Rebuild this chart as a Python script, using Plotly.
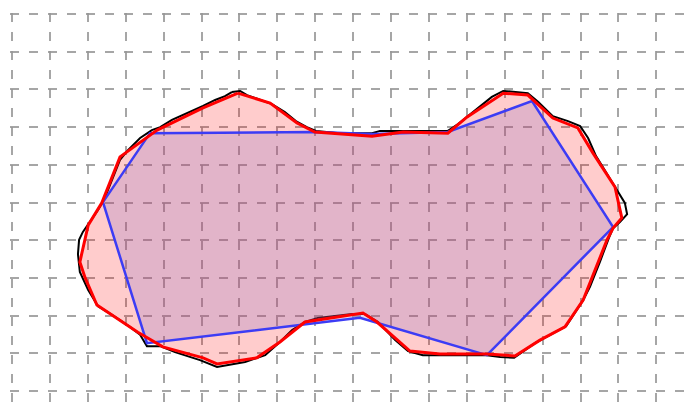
import plotly.graph_objects as go

# Outer (rough) outline, black
outline_x = [5.80, 6.02, 6.20, 6.49, 6.86, 7.20, 7.49, 7.78, 8.02, 8.65, 9.50, 9.71, 10.32, 11.50,
             11.77, 12.03, 12.35, 12.66, 12.96, 13.27, 13.61, 13.88, 14.27, 14.67, 14.99, 15.20,
             15.41, 15.67, 15.94, 16.17, 16.23, 16.04, 15.86, 15.75, 15.51, 15.25, 15.07, 14.85,
             14.62, 14.20, 13.80, 13.46, 13.25, 12.88, 12.53, 11.82, 10.84, 10.45, 10.11, 9.66,
             9.31, 8.97, 8.07, 7.73, 7.39, 7.07, 6.68, 6.15, 5.41, 4.96, 4.30, 3.91, 3.56, 3.38,
             3.11, 2.64, 2.27, 2.01, 1.79, 1.74, 1.77, 1.87, 2.06, 2.27, 2.43, 2.59, 2.85, 3.06,
             3.38, 3.69, 3.91, 4.22, 4.64, 5.04, 5.36, 5.62, 5.80]
outline_y = [7.93, 7.96, 7.85, 7.75, 7.61, 7.40, 7.16, 7.00, 6.90, 6.84, 6.84, 6.90, 6.90, 6.90,
             7.08, 7.29, 7.56, 7.80, 7.96, 7.93, 7.90, 7.67, 7.29, 7.16, 7.03, 6.71,
             6.23, 5.81, 5.38, 4.99, 4.69, 4.48, 4.32, 4.06, 3.42, 2.76, 2.41, 2.07,
             1.72, 1.49, 1.27, 1.03, 0.88, 0.90, 0.95, 0.95, 0.95, 1.06, 1.35, 1.83,
             2.04, 2.04, 1.94, 1.83, 1.62, 1.30, 0.95, 0.77, 0.64, 0.82, 1.03, 1.19, 1.19, 1.49,
             1.70, 2.02, 2.25, 2.68, 3.16, 3.63, 4.01, 4.22, 4.48, 4.80, 5.07, 5.46, 6.13, 6.39,
             6.71, 6.92, 7.00, 7.19, 7.37, 7.56, 7.72, 7.82, 7.93]

# Red polygon
red_x = [5.96, 6.81, 7.52, 7.99, 9.50, 10.32, 11.50, 12.01, 12.96, 13.61, 14.27, 14.93, 15.33,
         15.91, 16.09, 15.86, 15.70, 15.07, 14.59, 13.93, 13.27, 12.88, 12.53, 11.29, 10.50,
         9.63, 9.26, 7.73, 7.07, 6.46, 5.41, 5.04, 3.98, 3.32, 3.03, 2.24, 1.93, 1.79, 2.01,
         2.37, 2.85, 3.83, 5.04, 5.96]
red_y = [7.90, 7.64, 7.11, 6.87, 6.76, 6.87, 6.84, 7.27, 7.90, 7.85, 7.24, 6.98, 6.31,
         5.41, 4.59, 4.32, 4.01, 2.41, 1.70, 1.35, 0.93, 0.95, 0.98, 0.98, 1.06,
         1.83, 2.07, 1.83, 1.30, 0.88, 0.72, 0.88, 1.17, 1.56, 1.75, 2.28, 3.00, 3.42, 4.40,
         4.99, 6.21, 6.92, 7.51, 7.90]

# Blue polygon
blue_x = [2.40, 3.64, 7.99, 9.50, 11.50, 13.72, 15.86, 12.53, 9.18, 3.56, 2.40]
blue_y = [5.01, 6.84, 6.87, 6.82, 6.87, 7.69, 4.35, 0.95, 1.94, 1.27, 5.01]

fig = go.Figure()
fig.add_trace(go.Scatter(x=outline_x, y=outline_y, mode="lines",
                         line=dict(color="black", width=2), hoverinfo="skip"))
# red fill (below blue)
fig.add_trace(go.Scatter(x=red_x, y=red_y, mode="lines", fill="toself",
                         fillcolor="rgba(255,0,0,0.2)",
                         line=dict(color="rgba(0,0,0,0)", width=0), hoverinfo="skip"))
# blue polygon
fig.add_trace(go.Scatter(x=blue_x, y=blue_y, mode="lines", fill="toself",
                         fillcolor="rgba(139,108,192,0.25)",
                         line=dict(color="rgb(60,60,245)", width=2.5), hoverinfo="skip"))
# red outline on top
fig.add_trace(go.Scatter(x=red_x, y=red_y, mode="lines",
                         line=dict(color="red", width=3), hoverinfo="skip"))

axis_common = dict(showticklabels=False, ticks="", zeroline=False, showline=False,
                   showgrid=True, gridcolor="rgba(150,150,150,0.85)", gridwidth=2,
                   griddash="9px,10px", dtick=1, tick0=0, fixedrange=True)
fig.update_layout(
    width=684, height=400,
    margin=dict(l=2, r=0, t=5, b=0),
    paper_bgcolor="white", plot_bgcolor="white",
    showlegend=False,
    xaxis=dict(range=[-0.053, 17.942], **axis_common),
    yaxis=dict(range=[-0.451, 10.027], **axis_common),
)
fig.write_html("out.html")
